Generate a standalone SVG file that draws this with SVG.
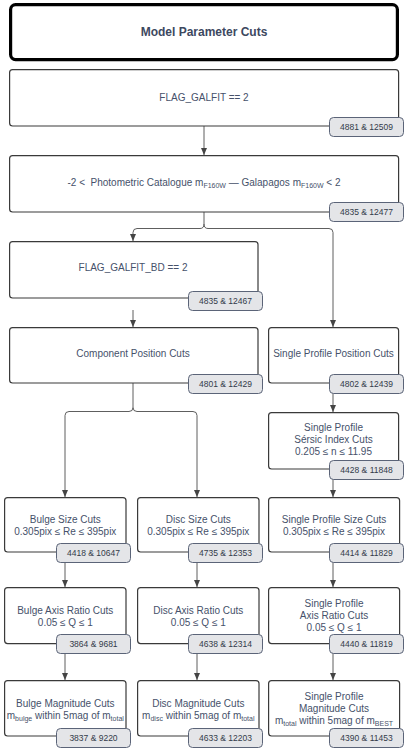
<svg xmlns="http://www.w3.org/2000/svg" width="407" height="750" viewBox="0 0 407 750">
<style>
  .box { fill: #ffffff; stroke: #3a3a3a; stroke-width: 1.2; }
  .title { fill: #ffffff; stroke: #000000; stroke-width: 3.2; }
  .badge { fill: #e4e5e8; stroke: #5b6478; stroke-width: 1; }
  .t { font-family: "Liberation Sans", Arial, sans-serif; font-size: 10px; fill: #46516a; text-anchor: middle; }
  .tt { font-family: "Liberation Sans", Arial, sans-serif; font-size: 12px; font-weight: bold; fill: #3d4860; text-anchor: middle; }
  .bt { font-family: "Liberation Sans", Arial, sans-serif; font-size: 8.5px; fill: #333b4a; text-anchor: middle; }
  .sub { font-size: 7px; }
  .c { fill: none; stroke: #5e5e5e; stroke-width: 1; }
</style>
<defs>
  <marker id="ah" markerUnits="userSpaceOnUse" markerWidth="7" markerHeight="6" refX="7" refY="3" orient="auto">
    <path d="M0,0 L7,3 L0,6 z" fill="#444444"/>
  </marker>
</defs>

<g id="connectors">
  <path class="c" d="M204,126 V155" marker-end="url(#ah)"/>
  <path class="c" d="M204,212 V224 Q204,228.5 200,228.5 H137 Q133,228.5 133,232.5 V241" marker-end="url(#ah)"/>
  <path class="c" d="M204,224 Q204,228.5 208,228.5 H329 Q333,228.5 333,232.5 V327" marker-end="url(#ah)"/>
  <path class="c" d="M133,310 V327" marker-end="url(#ah)"/>
  <path class="c" d="M133,383 V407.5 Q133,411.5 129,411.5 H69 Q65,411.5 65,415.5 V497" marker-end="url(#ah)"/>
  <path class="c" d="M133,407.5 Q133,411.5 137,411.5 H193 Q197,411.5 197,415.5 V497" marker-end="url(#ah)"/>
  <path class="c" d="M333,393 V412" marker-end="url(#ah)"/>
  <path class="c" d="M333,479 V497" marker-end="url(#ah)"/>
  <path class="c" d="M65,562 V587" marker-end="url(#ah)"/>
  <path class="c" d="M197,562 V587" marker-end="url(#ah)"/>
  <path class="c" d="M333,562 V587" marker-end="url(#ah)"/>
  <path class="c" d="M65,653 V680" marker-end="url(#ah)"/>
  <path class="c" d="M197,653 V680" marker-end="url(#ah)"/>
  <path class="c" d="M333,653 V680" marker-end="url(#ah)"/>
</g>

<g id="title">
  <rect class="title" x="10.6" y="4.6" width="386.8" height="55" rx="5"/>
  <text class="tt" x="204" y="35.5">Model Parameter Cuts</text>
</g>

<g id="flag-galfit">
  <rect class="box" x="9.6" y="69.6" width="389" height="56.4" rx="3"/>
  <text class="t" x="204" y="100.5">FLAG_GALFIT == 2</text>
  <rect class="badge" x="329.5" y="117.5" width="74" height="19" rx="4"/>
  <text class="bt" x="366.5" y="130">4881 &amp; 12509</text>
</g>

<g id="photometric">
  <rect class="box" x="9.6" y="155.6" width="389" height="56.4" rx="3"/>
  <text class="t" x="204" y="185.5" xml:space="preserve">-2 &lt;  Photometric Catalogue m<tspan class="sub" dy="2">F160W</tspan><tspan dy="-2"> — Galapagos m</tspan><tspan class="sub" dy="2">F160W</tspan><tspan dy="-2"> &lt; 2</tspan></text>
  <rect class="badge" x="329.5" y="202.5" width="74" height="19" rx="4"/>
  <text class="bt" x="366.5" y="215">4835 &amp; 12477</text>
</g>

<g id="flag-galfit-bd">
  <rect class="box" x="9.6" y="241.6" width="248.4" height="56.4" rx="3"/>
  <text class="t" x="133" y="270.5">FLAG_GALFIT_BD == 2</text>
  <rect class="badge" x="188.5" y="291.5" width="74" height="19" rx="4"/>
  <text class="bt" x="225.5" y="304">4835 &amp; 12467</text>
</g>

<g id="component-position">
  <rect class="box" x="9.6" y="327.6" width="248.4" height="55.4" rx="3"/>
  <text class="t" x="133" y="356.5">Component Position Cuts</text>
  <rect class="badge" x="188.5" y="374.5" width="74" height="19" rx="4"/>
  <text class="bt" x="225.5" y="387">4801 &amp; 12429</text>
</g>

<g id="single-position">
  <rect class="box" x="268.6" y="327.6" width="130" height="55.4" rx="3"/>
  <text class="t" x="333.5" y="356.5">Single Profile Position Cuts</text>
  <rect class="badge" x="329.5" y="374.5" width="74" height="19" rx="4"/>
  <text class="bt" x="366.5" y="387">4802 &amp; 12439</text>
</g>

<g id="single-sersic">
  <rect class="box" x="268.6" y="412.6" width="130" height="56.4" rx="3"/>
  <text class="t" x="333.5" y="430.5">Single Profile</text>
  <text class="t" x="333.5" y="442.5">Sérsic Index Cuts</text>
  <text class="t" x="333.5" y="454.5">0.205 ≤ n ≤ 11.95</text>
  <rect class="badge" x="329.5" y="460.5" width="74" height="19" rx="4"/>
  <text class="bt" x="366.5" y="473">4428 &amp; 11848</text>
</g>

<g id="bulge-size">
  <rect class="box" x="4.6" y="497.6" width="121.4" height="54.4" rx="3"/>
  <text class="t" x="65.3" y="522.5">Bulge Size Cuts</text>
  <text class="t" x="65.3" y="534.5">0.305pix ≤ Re ≤ 395pix</text>
  <rect class="badge" x="56.5" y="543.5" width="74" height="19" rx="4"/>
  <text class="bt" x="93.5" y="556">4418 &amp; 10647</text>
</g>

<g id="disc-size">
  <rect class="box" x="137.6" y="497.6" width="121.4" height="54.4" rx="3"/>
  <text class="t" x="198.3" y="522.5">Disc Size Cuts</text>
  <text class="t" x="198.3" y="534.5">0.305pix ≤ Re ≤ 395pix</text>
  <rect class="badge" x="188.5" y="543.5" width="74" height="19" rx="4"/>
  <text class="bt" x="225.5" y="556">4735 &amp; 12353</text>
</g>

<g id="single-size">
  <rect class="box" x="268.6" y="497.6" width="131" height="54.4" rx="3"/>
  <text class="t" x="334" y="522.5">Single Profile Size Cuts</text>
  <text class="t" x="334" y="534.5">0.305pix ≤ Re ≤ 395pix</text>
  <rect class="badge" x="329.5" y="543.5" width="74" height="19" rx="4"/>
  <text class="bt" x="366.5" y="556">4414 &amp; 11829</text>
</g>

<g id="bulge-axis">
  <rect class="box" x="4.6" y="587.6" width="121.4" height="56" rx="3"/>
  <text class="t" x="65.3" y="613.5">Bulge Axis Ratio Cuts</text>
  <text class="t" x="65.3" y="625.5">0.05 ≤ Q ≤ 1</text>
  <rect class="badge" x="56.5" y="634.5" width="74" height="19" rx="4"/>
  <text class="bt" x="93.5" y="647">3864 &amp; 9681</text>
</g>

<g id="disc-axis">
  <rect class="box" x="137.6" y="587.6" width="121.4" height="56" rx="3"/>
  <text class="t" x="198.3" y="613.5">Disc Axis Ratio Cuts</text>
  <text class="t" x="198.3" y="625.5">0.05 ≤ Q ≤ 1</text>
  <rect class="badge" x="188.5" y="634.5" width="74" height="19" rx="4"/>
  <text class="bt" x="225.5" y="647">4638 &amp; 12314</text>
</g>

<g id="single-axis">
  <rect class="box" x="268.6" y="587.6" width="131" height="56" rx="3"/>
  <text class="t" x="334" y="607">Single Profile</text>
  <text class="t" x="334" y="619">Axis Ratio Cuts</text>
  <text class="t" x="334" y="631">0.05 ≤ Q ≤ 1</text>
  <rect class="badge" x="329.5" y="634.5" width="74" height="19" rx="4"/>
  <text class="bt" x="366.5" y="647">4440 &amp; 11819</text>
</g>

<g id="bulge-magnitude">
  <rect class="box" x="4.6" y="680.6" width="121.4" height="55.4" rx="3"/>
  <text class="t" x="65.3" y="706.5">Bulge Magnitude Cuts</text>
  <text class="t" x="65.3" y="718.5">m<tspan class="sub" dy="2">bulge</tspan><tspan dy="-2"> within 5mag of m</tspan><tspan class="sub" dy="2">total</tspan></text>
  <rect class="badge" x="56.5" y="728.5" width="74" height="19" rx="4"/>
  <text class="bt" x="93.5" y="741">3837 &amp; 9220</text>
</g>

<g id="disc-magnitude">
  <rect class="box" x="137.6" y="680.6" width="121.4" height="55.4" rx="3"/>
  <text class="t" x="198.3" y="706.5">Disc Magnitude Cuts</text>
  <text class="t" x="198.3" y="718.5">m<tspan class="sub" dy="2">disc</tspan><tspan dy="-2"> within 5mag of m</tspan><tspan class="sub" dy="2">total</tspan></text>
  <rect class="badge" x="188.5" y="728.5" width="74" height="19" rx="4"/>
  <text class="bt" x="225.5" y="741">4633 &amp; 12203</text>
</g>

<g id="single-magnitude">
  <rect class="box" x="268.6" y="680.6" width="131" height="55.4" rx="3"/>
  <text class="t" x="334" y="699.5">Single Profile</text>
  <text class="t" x="334" y="711.5">Magnitude Cuts</text>
  <text class="t" x="334" y="723.5">m<tspan class="sub" dy="2">total</tspan><tspan dy="-2"> within 5mag of m</tspan><tspan class="sub" dy="2">BEST</tspan></text>
  <rect class="badge" x="329.5" y="728.5" width="74" height="19" rx="4"/>
  <text class="bt" x="366.5" y="741">4390 &amp; 11453</text>
</g>
</svg>
